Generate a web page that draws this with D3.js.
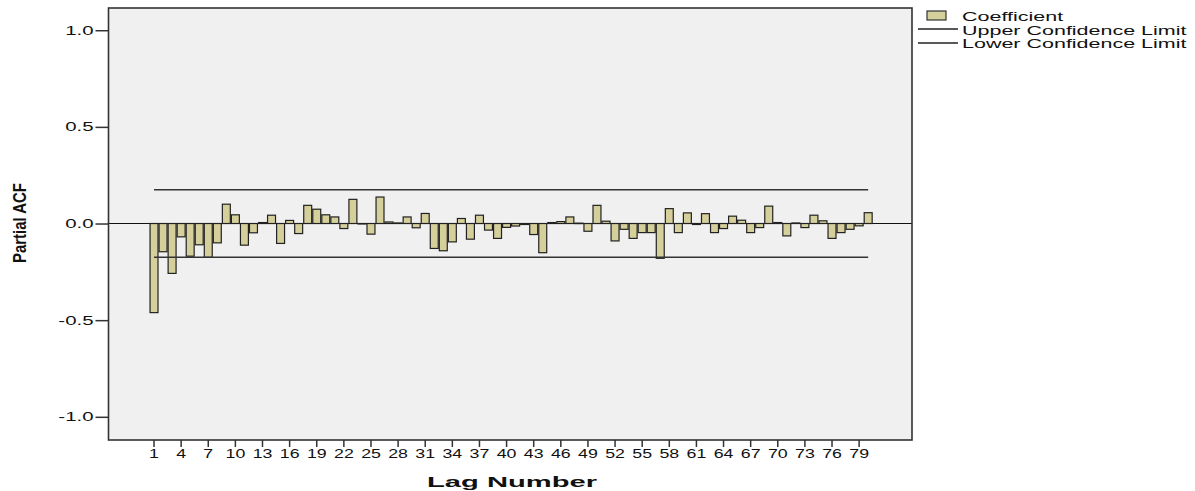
<!DOCTYPE html>
<html>
<head>
<meta charset="utf-8">
<script src="https://cdn.jsdelivr.net/npm/d3@7"></script>
<style>
  html, body { margin: 0; padding: 0; background: #ffffff; }
  svg { display: block; }
  text { font-family: "Liberation Sans", Arial, sans-serif; fill: #111; }
</style>
</head>
<body>
<svg id="chart" width="1195" height="491"></svg>
<script>
// ---------------- data ----------------
const lags = [1,2,3,4,5,6,7,8,9,10,11,12,13,14,15,16,17,18,19,20,
  21,22,23,24,25,26,27,28,29,30,31,32,33,34,35,36,37,38,39,40,
  41,42,43,44,45,46,47,48,49,50,51,52,53,54,55,56,57,58,59,60,
  61,62,63,64,65,66,67,68,69,70,71,72,73,74,75,76,77,78,79,80];
const coefficient = [
  -0.461,-0.146,-0.258,-0.069,-0.169,-0.110,-0.175,-0.100, 0.100, 0.045,
  -0.112,-0.048, 0.005, 0.043,-0.103, 0.016,-0.052, 0.094, 0.074, 0.045,
   0.034,-0.026, 0.125,-0.002,-0.055, 0.137, 0.008, 0.003, 0.034,-0.022,
   0.052,-0.129,-0.141,-0.095, 0.026,-0.081, 0.043,-0.034,-0.077,-0.020,
  -0.013,-0.005,-0.057,-0.151, 0.005, 0.010, 0.034, 0.002,-0.040, 0.094,
   0.012,-0.090,-0.030,-0.077,-0.047,-0.047,-0.180, 0.077,-0.047, 0.055,
  -0.005, 0.051,-0.047,-0.026, 0.038, 0.017,-0.047,-0.021, 0.090, 0.005,
  -0.064, 0.003,-0.021, 0.043, 0.014,-0.077,-0.047,-0.030,-0.012, 0.056];
const upperLimit = 0.175;
const lowerLimit = -0.175;
const xTickLabels = [1,4,7,10,13,16,19,22,25,28,31,34,37,40,43,46,49,52,55,58,61,64,67,70,73,76,79];
const yTickValues = [-1.0,-0.5,0.0,0.5,1.0];
const legendItems = ["Coefficient","Upper Confidence Limit","Lower Confidence Limit"];
const xTitle = "Lag Number";
const yTitle = "Partial ACF";

// ---------------- layout ----------------
const svg = d3.select("#chart");
const plot = {left: 108.5, right: 912, top: 8, bottom: 440};
const barFill = "#d4cf9b";

const x = d3.scaleBand()
  .domain(lags)
  .range([149.5, 872.7])
  .paddingInner(0.12)
  .paddingOuter(0.06);
const y = d3.scaleLinear()
  .domain([-1.12, 1.115])
  .range([plot.bottom, plot.top]);

function stretch(sel, factor) {
  sel.each(function() {
    const w = this.getComputedTextLength();
    d3.select(this).attr("textLength", w * factor).attr("lengthAdjust", "spacingAndGlyphs");
  });
}

// plot background
svg.append("rect")
  .attr("x", plot.left).attr("y", plot.top)
  .attr("width", plot.right - plot.left).attr("height", plot.bottom - plot.top)
  .attr("fill", "#f0f0f0");

// zero line
svg.append("line")
  .attr("x1", plot.left).attr("x2", plot.right)
  .attr("y1", y(0)).attr("y2", y(0))
  .attr("stroke", "#111").attr("stroke-width", 1.2);

// bars
svg.append("g").selectAll("rect")
  .data(lags.map((l, i) => ({lag: l, v: coefficient[i]})))
  .join("rect")
  .attr("x", d => x(d.lag))
  .attr("width", x.bandwidth())
  .attr("y", d => Math.min(y(d.v), y(0)))
  .attr("height", d => Math.max(0.5, Math.abs(y(d.v) - y(0))))
  .attr("fill", barFill)
  .attr("stroke", "#222")
  .attr("stroke-width", 1.2);

// confidence limits
const cx1 = x(lags[0]) + x.bandwidth() / 2;
const cx2 = x(lags[lags.length - 1]) + x.bandwidth() / 2;
[upperLimit, lowerLimit].forEach(v => {
  svg.append("line")
    .attr("x1", cx1).attr("x2", cx2)
    .attr("y1", y(v)).attr("y2", y(v))
    .attr("stroke", "#333").attr("stroke-width", 1.5);
});

// frame
svg.append("rect")
  .attr("x", plot.left).attr("y", plot.top)
  .attr("width", plot.right - plot.left).attr("height", plot.bottom - plot.top)
  .attr("fill", "none").attr("stroke", "#333").attr("stroke-width", 1.6);

// y axis
const fmt = d3.format(".1f");
const yAxis = d3.axisLeft(y)
  .tickValues(yTickValues)
  .tickSize(13)
  .tickPadding(2)
  .tickFormat(d => fmt(d).replace("\u2212", "-"));
const gy = svg.append("g").attr("transform", `translate(${plot.left},0)`).call(yAxis);
gy.select(".domain").remove();
gy.selectAll(".tick line").attr("stroke", "#333").attr("stroke-width", 1.5);
gy.selectAll(".tick text")
  .attr("font-size", 12)
  .attr("font-family", "Liberation Sans, Arial, sans-serif")
  .attr("fill", "#222");
stretch(gy.selectAll(".tick text"), 1.7);

// x axis
const xAxis = d3.axisBottom(x)
  .tickValues(xTickLabels)
  .tickSize(7)
  .tickPadding(2);
const gx = svg.append("g").attr("transform", `translate(0,${plot.bottom})`).call(xAxis);
gx.select(".domain").remove();
gx.selectAll(".tick line").attr("stroke", "#333").attr("stroke-width", 1.5);
gx.selectAll(".tick text")
  .attr("font-size", 12.5)
  .attr("font-family", "Liberation Sans, Arial, sans-serif")
  .attr("fill", "#222");
stretch(gx.selectAll(".tick text"), 1.42);

// titles
svg.append("text")
  .attr("x", 512).attr("y", 487)
  .attr("text-anchor", "middle")
  .attr("font-size", 15).attr("font-weight", "bold")
  .attr("textLength", 170).attr("lengthAdjust", "spacingAndGlyphs")
  .text(xTitle);

svg.append("text")
  .attr("transform", "translate(25.5,223) rotate(-90)")
  .attr("text-anchor", "middle")
  .attr("font-size", 18.5).attr("font-weight", "bold")
  .style("font-family", "'Liberation Sans Narrow', 'Liberation Sans', Arial, sans-serif")
  .attr("textLength", 80).attr("lengthAdjust", "spacingAndGlyphs")
  .text(yTitle);

// legend
const lg = svg.append("g");
lg.append("rect")
  .attr("x", 927).attr("y", 11).attr("width", 19).attr("height", 9)
  .attr("fill", barFill).attr("stroke", "#333").attr("stroke-width", 1.2);
[29, 43].forEach(ly => {
  lg.append("line").attr("x1", 918).attr("x2", 958).attr("y1", ly).attr("y2", ly)
    .attr("stroke", "#222").attr("stroke-width", 1.3);
});
const lt = lg.selectAll("text.leg")
  .data(legendItems)
  .join("text")
  .attr("class", "leg")
  .attr("x", 962)
  .attr("y", (d, i) => 21 + i * 13.5)
  .attr("font-size", 12)
  .attr("fill", "#222")
  .text(d => d);
stretch(lt, 1.79);
</script>
</body>
</html>
